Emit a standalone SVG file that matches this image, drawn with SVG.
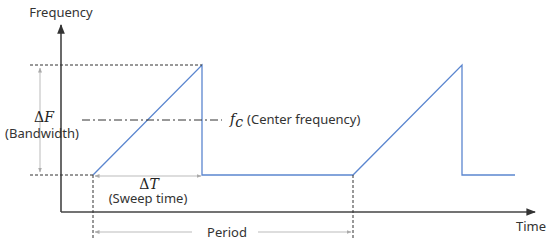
<svg xmlns="http://www.w3.org/2000/svg" width="550" height="246" viewBox="0 0 550 246">
<style>
.lbl{font-family:"Noto Sans","Open Sans",sans-serif;font-size:13px;fill:#333}
.math{font-family:"DejaVu Serif","Liberation Serif",serif;font-style:italic;font-size:14px;fill:#222}
.up{font-style:normal}
.axis{stroke:#444;stroke-width:1.6;fill:none}
.sig{stroke:#5b86cf;stroke-width:1.3;fill:none}
.dash{stroke:#333;stroke-width:1;stroke-dasharray:3,2;fill:none}
.dd{stroke:#333;stroke-width:1;stroke-dasharray:8,3,2,3;fill:none}
.dim{stroke:#bbb;stroke-width:1;fill:none}
</style>
<defs>
<marker id="ax" viewBox="0 0 10 10" refX="9" refY="5" markerWidth="6" markerHeight="6" orient="auto-start-reverse"><path d="M0,1 L10,5 L0,9 z" fill="#333"/></marker>
<marker id="dm" viewBox="0 0 10 10" refX="9" refY="5" markerWidth="5" markerHeight="5" orient="auto-start-reverse"><path d="M0,1 L10,5 L0,9 z" fill="#aaa"/></marker>
</defs>
<g id="axes">
<line class="axis" x1="61" y1="212" x2="61" y2="25" marker-end="url(#ax)"/>
<line class="axis" x1="61" y1="212" x2="535" y2="212" marker-end="url(#ax)"/>
<text class="lbl" x="61" y="17" text-anchor="middle">Frequency</text>
<text class="lbl" x="531" y="231" text-anchor="middle">Time</text>
</g>
<g id="signal">
<polyline class="sig" points="93,175 202,65 202,175 353,175 462,65 462,175 515,175"/>
</g>
<g id="connectors">
<line class="dash" x1="30" y1="65" x2="202" y2="65"/>
<line class="dash" x1="30" y1="175" x2="93" y2="175"/>
<line class="dash" x1="93" y1="175" x2="93" y2="239"/>
<line class="dash" x1="353" y1="175" x2="353" y2="239"/>
<line class="dd" x1="82" y1="120" x2="222" y2="120"/>
<line class="dim" x1="40" y1="68" x2="40" y2="172" marker-start="url(#dm)" marker-end="url(#dm)"/>
<line class="dim" x1="95" y1="176" x2="201" y2="176" marker-start="url(#dm)" marker-end="url(#dm)"/>
<line class="dim" x1="95" y1="232" x2="192" y2="232" marker-start="url(#dm)"/>
<line class="dim" x1="258" y1="232" x2="351" y2="232" marker-end="url(#dm)"/>
</g>
<g id="labels">
<text class="math" x="44" y="122" text-anchor="middle"><tspan class="up">Δ</tspan>F</text>
<text class="lbl" x="42" y="138" text-anchor="middle">(Bandwidth)</text>
<text class="math" x="149" y="189" text-anchor="middle"><tspan class="up">Δ</tspan>T</text>
<text class="lbl" x="148" y="203" text-anchor="middle">(Sweep time)</text>
<text class="lbl" x="227" y="237" text-anchor="middle">Period</text>
<text x="230" y="124"><tspan class="math">f</tspan><tspan class="math" font-size="10" dy="3">c</tspan><tspan class="lbl" dy="-3" dx="4">(Center frequency)</tspan></text>
</g>
</svg>
